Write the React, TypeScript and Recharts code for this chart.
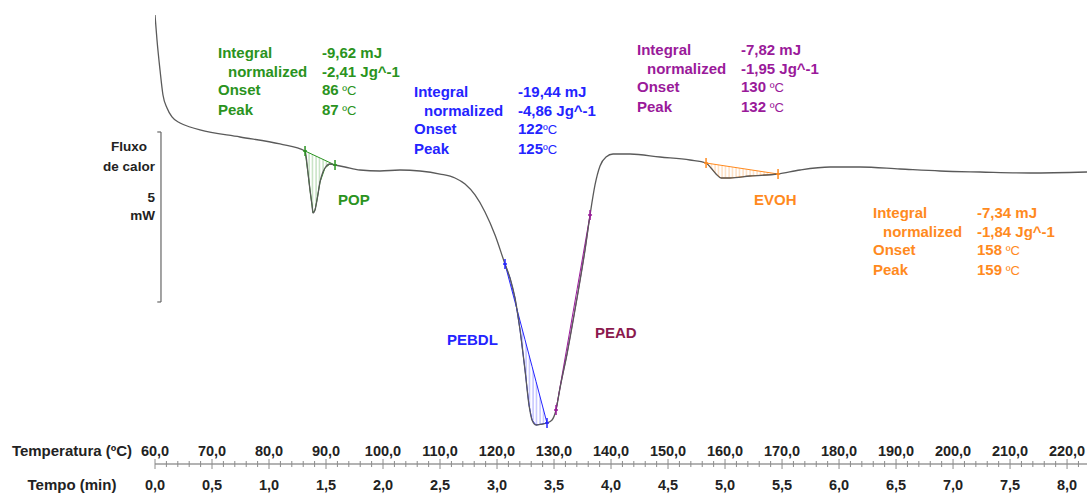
import React from 'react';
import { ComposedChart, Line, Area, XAxis, YAxis, ReferenceLine, Scatter } from 'recharts';

// Temperature (ºC) and heat flow (mW, relative)
const temperature = [
  60.0, 60.35, 60.88, 61.4, 62.11, 62.98, 64.39, 66.14, 67.89, 74.91, 81.93,
  86.32, 86.84, 87.19, 87.54, 87.72, 88.07, 88.42, 88.95, 89.82, 90.7, 91.58,
  93.33, 95.96, 99.47, 102.98, 106.49, 110.0, 112.63, 114.39, 116.14, 117.89, 119.65,
  121.4, 122.28, 123.16, 124.04, 124.91, 125.61, 126.14, 126.84, 127.89, 128.77,
  129.65, 130.35, 131.05, 132.28, 134.04, 135.44, 136.32, 137.19, 138.07, 139.12, 140.35,
  143.33, 148.6, 153.86, 156.67, 157.54, 158.42, 159.3, 160.88, 164.39, 169.3,
  173.16, 178.42, 183.68, 190.7, 197.72, 204.74, 213.51, 223.5,
];
const heatFlow = [
  4.206, 3.471, 2.588, 1.853, 1.471, 1.206, 1.029, 0.912, 0.824, 0.618, 0.412,
  0.206, -0.441, -0.941, -1.382, -1.618, -1.529, -1.235, -0.706, -0.294, -0.176, -0.206,
  -0.265, -0.353, -0.382, -0.353, -0.382, -0.471, -0.588, -0.765, -1.088, -1.588, -2.265,
  -3.118, -3.529, -4.118, -5.059, -6.235, -7.265, -7.706, -7.853, -7.824, -7.794,
  -7.706, -7.412, -6.765, -5.765, -4.118, -2.706, -1.676, -0.794, -0.235, 0.029, 0.118,
  0.118, 0.029, -0.059, -0.147, -0.294, -0.471, -0.588, -0.588, -0.529, -0.471,
  -0.353, -0.265, -0.265, -0.324, -0.382, -0.412, -0.441, -0.412,
];

// Peak integration baselines: [start T, start flow, end T, end flow]
const popBaseline = [86.32, 0.206, 91.58, -0.206];
const pebdlBaseline = [121.4, -3.118, 128.77, -7.794];
const peadBaseline = [130.35, -7.412, 136.32, -1.676];
const evohBaseline = [156.67, -0.147, 169.3, -0.471];

// Axis tick labels
const majorTicks = [60, 70, 80, 90, 100, 110, 120, 130, 140, 150, 160, 170, 180, 190, 200, 210, 220];
const tempLabels = ['60,0', '70,0', '80,0', '90,0', '100,0', '110,0', '120,0', '130,0', '140,0', '150,0', '160,0', '170,0', '180,0', '190,0', '200,0', '210,0', '220,0'];
const timeLabels = ['0,0', '0,5', '1,0', '1,5', '2,0', '2,5', '3,0', '3,5', '4,0', '4,5', '5,0', '5,5', '6,0', '6,5', '7,0', '7,5', '8,0'];
const allTicks: number[] = [];
majorTicks.forEach((m) => {
  allTicks.push(m);
  [2, 4, 6, 8].forEach((d) => { if (m + d <= 222) allTicks.push(m + d); });
});

// 5 mW scale bar (flow values)
const scaleBar = [-4.235, 0.765];

// Annotation texts
const popText = ['-9,62 mJ', '-2,41 Jg^-1', '86', '87'];
const pebdlText = ['-19,44 mJ', '-4,86 Jg^-1', '122', '125'];
const peadText = ['-7,82 mJ', '-1,95 Jg^-1', '130', '132'];
const evohText = ['-7,34 mJ', '-1,84 Jg^-1', '158', '159'];

const GREEN = '#2a9320';
const BLUE = '#2424ff';
const PURPLE = '#9a1a9a';
const ORANGE = '#ff8a1e';
const MAROON = '#8b1a4e';
const FONT = '"Liberation Sans", Arial, sans-serif';

const regions: [string, number[]][] = [
  ['pop', popBaseline],
  ['pebdl', pebdlBaseline],
  ['pead', peadBaseline],
  ['evoh', evohBaseline],
];

const data = temperature.map((t, i) => {
  const row: any = { t, flow: heatFlow[i] };
  regions.forEach(([key, b]) => {
    if (t >= b[0] - 1e-6 && t <= b[2] + 1e-6) {
      const base = b[1] + ((t - b[0]) / (b[2] - b[0])) * (b[3] - b[1]);
      row[key] = [base, heatFlow[i]];
    }
  });
  return row;
});

const markerPoints = (b: number[]) => [
  { t: b[0], flow: b[1] },
  { t: b[2], flow: b[3] },
];

const Dash = (color: string) => (props: any) => {
  const { cx, cy } = props;
  if (cx == null || cy == null) return null;
  return (
    <g>
      <line x1={cx} x2={cx} y1={cy - 5} y2={cy + 5} stroke={color} strokeWidth={1.5} />
      <line x1={cx - 2} x2={cx + 2} y1={cy} y2={cy} stroke={color} strokeWidth={1.5} />
    </g>
  );
};

const AxisTick = (props: any) => {
  const { x, y, payload } = props;
  const idx = majorTicks.indexOf(payload.value);
  const major = idx >= 0;
  const h = major ? 5 : 3;
  return (
    <g>
      <line x1={x} x2={x} y1={y - h} y2={y + h} stroke="#8c8c8c" strokeWidth={1} />
      {major && (
        <text x={x} y={y - 8} textAnchor="middle" fontFamily={FONT} fontWeight="bold" fontSize={14.5} fill="#222">
          {tempLabels[idx]}
        </text>
      )}
      {major && (
        <text x={x} y={y + 26} textAnchor="middle" fontFamily={FONT} fontWeight="bold" fontSize={14.5} fill="#222">
          {timeLabels[idx]}
        </text>
      )}
    </g>
  );
};

const Block = ({ left, top, color, values, space }: any) => {
  const labels = ['Integral', 'normalized', 'Onset', 'Peak'];
  return (
    <div style={{ position: 'absolute', left, top, color, fontFamily: FONT, fontWeight: 'bold', fontSize: 15, lineHeight: '18.6px', whiteSpace: 'nowrap' }}>
      {labels.map((lab, i) => (
        <div key={lab} style={{ display: 'flex' }}>
          <span style={{ width: 104, paddingLeft: i === 1 ? 10 : 0, boxSizing: 'border-box' }}>{lab}</span>
          <span>
            {values[i]}
            {i >= 2 && <span style={{ fontSize: 13, fontWeight: 'normal' }}>{space ? ' ' : ''}ºC</span>}
          </span>
        </div>
      ))}
    </div>
  );
};

const Txt = ({ left, top, color, children, size = 15, align = 'left', width }: any) => (
  <div style={{ position: 'absolute', left, top, width, color, fontFamily: FONT, fontWeight: 'bold', fontSize: size, lineHeight: '18px', whiteSpace: 'nowrap', textAlign: align }}>
    {children}
  </div>
);

export default function App() {
  return (
    <div style={{ position: 'absolute', left: 0, top: 0, width: 1087, height: 494, background: '#fff', overflow: 'hidden' }}>
      <ComposedChart width={1087} height={494} data={data} margin={{ top: 0, right: 0, bottom: 0, left: 155 }}>
        <defs>
          {[['hGreen', GREEN], ['hBlue', BLUE], ['hPurple', PURPLE], ['hOrange', ORANGE]].map(([id, c]) => (
            <pattern key={id} id={id} patternUnits="userSpaceOnUse" width={3.5} height={10}>
              <line x1={1} x2={1} y1={0} y2={10} stroke={c} strokeWidth={0.9} strokeOpacity={0.75} />
            </pattern>
          ))}
        </defs>
        <XAxis
          dataKey="t"
          type="number"
          domain={[60, 223.5]}
          allowDataOverflow
          ticks={allTicks}
          interval={0}
          height={30}
          tickSize={0}
          tickMargin={0}
          tickLine={false}
          axisLine={{ stroke: '#9a9a9a', strokeWidth: 1.5 }}
          tick={<AxisTick />}
        />
        <YAxis hide type="number" domain={[-9, 4.647]} allowDataOverflow />
        <Area dataKey="pop" type="linear" stroke={GREEN} strokeWidth={1} fill="url(#hGreen)" isAnimationActive={false} connectNulls={false} />
        <Area dataKey="pebdl" type="linear" stroke={BLUE} strokeWidth={1} fill="url(#hBlue)" isAnimationActive={false} connectNulls={false} />
        <Area dataKey="pead" type="linear" stroke={PURPLE} strokeWidth={1} fill="url(#hPurple)" isAnimationActive={false} connectNulls={false} />
        <Area dataKey="evoh" type="linear" stroke={ORANGE} strokeWidth={1} fill="url(#hOrange)" isAnimationActive={false} connectNulls={false} />
        <Line dataKey="flow" type="monotone" stroke="#5a5a5a" strokeWidth={1.3} dot={false} isAnimationActive={false} />
        <Scatter data={markerPoints(popBaseline)} dataKey="flow" shape={Dash(GREEN)} isAnimationActive={false} />
        <Scatter data={markerPoints(pebdlBaseline)} dataKey="flow" shape={Dash(BLUE)} isAnimationActive={false} />
        <Scatter data={markerPoints(peadBaseline)} dataKey="flow" shape={Dash(PURPLE)} isAnimationActive={false} />
        <Scatter data={markerPoints(evohBaseline)} dataKey="flow" shape={Dash(ORANGE)} isAnimationActive={false} />
        <ReferenceLine segment={[{ x: 61.05, y: scaleBar[0] }, { x: 61.05, y: scaleBar[1] }]} stroke="#666" strokeWidth={1.2} ifOverflow="visible" />
        <ReferenceLine segment={[{ x: 60.4, y: scaleBar[0] }, { x: 61.05, y: scaleBar[0] }]} stroke="#666" strokeWidth={1.2} ifOverflow="visible" />
        <ReferenceLine segment={[{ x: 60.4, y: scaleBar[1] }, { x: 61.05, y: scaleBar[1] }]} stroke="#666" strokeWidth={1.2} ifOverflow="visible" />
      </ComposedChart>

      <Block left={218} top={44} color={GREEN} values={popText} space />
      <Block left={414} top={83} color={BLUE} values={pebdlText} />
      <Block left={637} top={41} color={PURPLE} values={peadText} space />
      <Block left={873} top={204} color={ORANGE} values={evohText} space />

      <Txt left={338} top={191} color={GREEN}>POP</Txt>
      <Txt left={447} top={331} color={BLUE}>PEBDL</Txt>
      <Txt left={595} top={324} color={MAROON}>PEAD</Txt>
      <Txt left={754} top={191} color={ORANGE}>EVOH</Txt>

      <Txt left={90} top={138} width={78} align="center" color="#222" size={13.5}>Fluxo</Txt>
      <Txt left={90} top={158} width={78} align="center" color="#222" size={13.5}>de calor</Txt>
      <Txt left={95} top={189} width={60} align="right" color="#222" size={13.5}>5</Txt>
      <Txt left={95} top={207} width={60} align="right" color="#222" size={13.5}>mW</Txt>

      <Txt left={0} top={442} width={144} align="center" color="#222" size={15}>Temperatura (ºC)</Txt>
      <Txt left={0} top={476} width={144} align="center" color="#222" size={15}>Tempo (min)</Txt>
    </div>
  );
}
